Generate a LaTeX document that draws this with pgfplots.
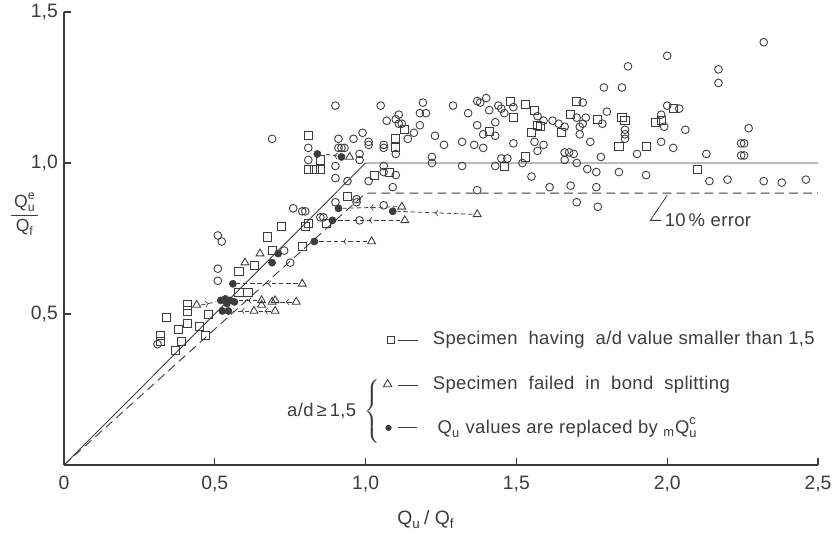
\documentclass[border=0pt]{standalone}
\usepackage{fontspec}
\setmainfont{Liberation Sans}
\usepackage{amsmath}
\usepackage{pgfplots}
\pgfplotsset{compat=1.18}
\usetikzlibrary{decorations.markings, shapes.geometric}
\definecolor{ink}{HTML}{3C3C3C}

\pgfplotsset{
  arr/.style={ink, line width=0.45pt, dash pattern=on 2.5pt off 1.6pt,
    postaction={decorate},
    decoration={markings, mark=at position 0.5 with {\arrow[solid]{>}}}},
}
\newcommand{\keyfont}{\fontsize{10.5}{12}\selectfont\addfontfeatures{LetterSpace=2}}

\begin{document}
\begin{tikzpicture}[font=\fontsize{10}{12}\selectfont]
\path[use as bounding box] (-1.28,-1.48) rectangle (15.46,9.30);
\begin{axis}[
  scale only axis, width=15.08cm, height=9.06cm,
  xmin=0, xmax=2.5, ymin=0, ymax=1.5,
  axis x line=bottom, axis y line=left,
  axis line style={-, ink, line width=0.6pt},
  tick align=inside, major tick length=0.13cm,
  tick style={ink, line width=0.6pt},
  xtick={0,0.5,1,1.5,2,2.5},
  xticklabels={0,{0,5},{1,0},{1,5},{2,0},{2,5}},
  ytick={0.5,1,1.5},
  yticklabels={{0,5},{1,0},{1,5}},
  tick label style={font=\fontsize{11}{13}\selectfont, text=ink},
  x tick label style={yshift=-3pt},
  clip=false,
]
% reference lines
\addplot[ink, line width=0.5pt] coordinates {(0,0) (1.0,1.0) (2.5,1.0)};
\addplot[ink, line width=0.5pt, dash pattern=on 5pt off 3pt] coordinates {(0,0) (1.0,0.9) (2.5,0.9)};

% arrows: bond splitting -> replaced value
\addplot[arr] coordinates {(0.93,1.02) (0.86,1.03)};
\addplot[arr] coordinates {(1.105,0.855) (0.925,0.85)};
\addplot[arr] coordinates {(1.355,0.83) (1.105,0.84)};
\addplot[arr] coordinates {(1.115,0.81) (0.905,0.81)};
\addplot[arr] coordinates {(1.005,0.74) (0.845,0.74)};
\addplot[arr] coordinates {(0.775,0.60) (0.575,0.60)};
\addplot[arr] coordinates {(0.64,0.545) (0.58,0.545)};
\addplot[arr] coordinates {(0.755,0.54) (0.715,0.54)};
\addplot[arr] coordinates {(0.615,0.51) (0.56,0.51)};
\addplot[arr] coordinates {(0.685,0.51) (0.645,0.51)};
\addplot[arr] coordinates {(0.455,0.53) (0.505,0.54)};

% open circles
\addplot[only marks, mark=o, mark size=2.2pt, ink, mark options={line width=0.5pt}] coordinates {
(0.31,0.40) (0.51,0.76) (0.523,0.74) (0.51,0.65) (0.51,0.61) (0.73,0.71) (0.75,0.67) (0.69,1.08)
(0.76,0.85) (0.79,0.84) (0.80,0.84) (0.85,0.82) (0.86,0.82)
(0.81,1.05) (0.81,1.01) (0.90,1.19) (0.91,1.08) (0.91,1.05) (0.90,0.99) (0.90,0.95) (0.90,0.87)
(0.94,0.94) (0.97,0.88) (0.97,0.87) (0.98,0.81)
(0.92,1.05) (0.93,1.05) (0.98,1.03) (0.98,1.01)
(0.96,1.08) (0.99,1.10) (1.01,1.07) (1.01,1.06) (1.06,1.06) (1.06,1.05) (1.07,1.14) (1.05,1.19)
(1.10,1.03) (1.11,1.16) (1.10,1.145) (1.11,1.13) (1.12,1.13) (1.14,1.08) (1.16,1.10) (1.18,1.125)
(1.19,1.20) (1.18,1.165) (1.20,1.165) (1.23,1.09) (1.26,1.06) (1.29,1.19) (1.32,1.07) (1.34,1.165)
(1.36,1.06) (1.39,1.05) (1.37,1.125) (1.37,1.205) (1.38,1.20) (1.40,1.215) (1.41,1.175) (1.39,1.095)
(1.43,1.09) (1.43,1.135) (1.44,1.19)
(1.01,0.94) (1.06,0.99) (1.06,0.97) (1.10,0.96) (1.22,1.02) (1.22,1.00) (1.32,0.99) (1.43,0.99)
(1.09,0.92) (1.06,0.86) (1.37,0.91)
(1.45,1.18) (1.46,1.165) (1.49,1.185) (1.57,1.155) (1.59,1.14) (1.62,1.14) (1.64,1.13) (1.66,1.12)
(1.56,1.07) (1.59,1.06) (1.57,1.04) (1.49,1.065) (1.72,1.20) (1.70,1.15) (1.73,1.15) (1.72,1.13)
(1.71,1.12) (1.71,1.095) (1.745,1.07) (1.80,1.17) (1.785,1.13) (1.86,1.11) (1.86,1.095) (1.86,1.08)
(1.90,1.03) (1.78,1.02) (1.66,1.035) (1.675,1.035) (1.66,1.01) (1.69,1.03) (1.70,1.00) (1.45,1.015)
(1.47,1.015) (1.52,1.00) (1.55,0.955) (1.735,0.98) (1.765,0.97) (1.84,0.97) (1.93,0.96) (1.61,0.92)
(1.68,0.925) (1.765,0.92) (1.70,0.87) (1.77,0.855)
(1.87,1.32) (1.79,1.25) (1.85,1.25) (2.00,1.355) (2.32,1.40) (2.17,1.31) (2.17,1.265) (2.00,1.19)
(2.04,1.18) (1.98,1.16) (1.99,1.12) (2.06,1.11) (1.98,1.07) (2.02,1.05) (2.13,1.03) (2.14,0.94)
(2.20,0.945) (2.245,1.065) (2.255,1.065) (2.245,1.025) (2.255,1.025) (2.27,1.115) (2.32,0.94)
(2.38,0.935) (2.46,0.945)
};

% squares: a/d < 1.5
\addplot[only marks, mark=square, mark size=2.3pt, ink, mark options={line width=0.5pt}] coordinates {
(0.32,0.43) (0.32,0.41) (0.34,0.49) (0.37,0.38) (0.38,0.45) (0.39,0.41) (0.41,0.53) (0.41,0.51)
(0.41,0.47) (0.45,0.46) (0.47,0.43) (0.48,0.50) (0.58,0.64) (0.58,0.57) (0.61,0.57) (0.63,0.66)
(0.675,0.755) (0.69,0.71) (0.72,0.79) (0.79,0.725) (0.80,0.79) (0.81,0.80) (0.87,0.80) (0.81,1.09)
(0.85,1.01) (0.81,0.98) (0.83,0.98) (0.85,0.98) (0.94,0.89) (1.03,0.96) (1.08,0.97) (1.10,1.08)
(1.10,1.05) (1.13,1.11) (1.41,1.105) (1.46,0.99) (1.48,1.205) (1.53,1.195) (1.49,1.15) (1.56,1.175)
(1.57,1.125) (1.58,1.12) (1.55,1.10) (1.53,1.02) (1.65,1.10) (1.70,1.205) (1.68,1.16) (1.77,1.145)
(1.85,1.15) (1.86,1.14) (1.84,1.055) (1.93,1.055) (1.96,1.135) (1.98,1.14) (2.02,1.18) (2.10,0.98)
};

% triangles: bond splitting
\addplot[only marks, mark=triangle, mark size=2.6pt, ink, mark options={line width=0.5pt}] coordinates {
(0.947,1.02) (1.12,0.855) (1.37,0.83) (1.13,0.81) (1.02,0.74) (0.79,0.60) (0.65,0.70) (0.60,0.67)
(0.44,0.53) (0.655,0.545) (0.655,0.53) (0.69,0.54) (0.70,0.545) (0.77,0.54) (0.63,0.51) (0.70,0.51)
};

% filled circles: replaced values
\addplot[only marks, mark=*, mark size=2.0pt, ink, mark options={fill=ink}] coordinates {
(0.84,1.03) (0.92,1.02) (0.91,0.85) (1.09,0.84) (0.89,0.81) (0.83,0.74) (0.71,0.70) (0.69,0.67)
(0.56,0.60) (0.52,0.545) (0.535,0.55) (0.55,0.545) (0.565,0.54) (0.54,0.535) (0.525,0.51) (0.545,0.51)
};

% 10 % error note
\draw[ink, line width=0.45pt] (axis cs:2.0,0.893) -- (axis cs:1.944,0.81) -- (axis cs:1.98,0.81);
\node[anchor=west, text=ink, inner sep=1pt, font=\keyfont] at (axis cs:1.985,0.81) {10\,\% error};

% key
\node[draw=ink, line width=0.5pt, minimum size=4pt, inner sep=0pt] at (axis cs:1.083,0.414) {};
\draw[ink, line width=0.45pt] (axis cs:1.106,0.414) -- (axis cs:1.175,0.414);
\node[anchor=west, text=ink, inner sep=0pt, font=\keyfont] at (axis cs:1.222,0.414)
  {Specimen\ \ having\ \ a/d value smaller than 1,5};
\node[draw=ink, line width=0.5pt, regular polygon, regular polygon sides=3, minimum size=5.5pt, inner sep=0pt]
  at (axis cs:1.073,0.267) {};
\draw[ink, line width=0.45pt] (axis cs:1.106,0.265) -- (axis cs:1.175,0.265);
\node[anchor=west, text=ink, inner sep=0pt, font=\keyfont] at (axis cs:1.222,0.265)
  {Specimen\ \ failed\ \ in\ \ bond\ \ splitting};
\fill[ink] (axis cs:1.076,0.123) circle (1.8pt);
\draw[ink, line width=0.45pt] (axis cs:1.106,0.123) -- (axis cs:1.17,0.123);
\node[anchor=west, text=ink, inner sep=0pt, font=\keyfont] at (axis cs:1.238,0.123)
  {$\text{Q}_{\text{u}}$ values are replaced by $_{\text{m}}\text{Q}^{\text{c}}_{\text{u}}$};
\node[text=ink, inner sep=0pt] at (axis cs:1.025,0.178) {$\left\{\rule{0pt}{0.68cm}\right.$};
\node[anchor=east, text=ink, inner sep=0pt, font=\keyfont] at (axis cs:0.97,0.178) {a/d\,≥\,1,5};

% axis labels
\node[text=ink] at (axis cs:-0.13,0.83)
  {$\dfrac{\,\text{Q}^{\text{e}}_{\text{u}}\,}{\text{Q}_{\text{f}}}$};
\node[text=ink, font=\fontsize{11}{13}\selectfont] at (axis cs:1.2,-0.18)
  {$\text{Q}_{\text{u}}$\,/\ $\text{Q}_{\text{f}}$};
\end{axis}
\end{tikzpicture}
\end{document}
